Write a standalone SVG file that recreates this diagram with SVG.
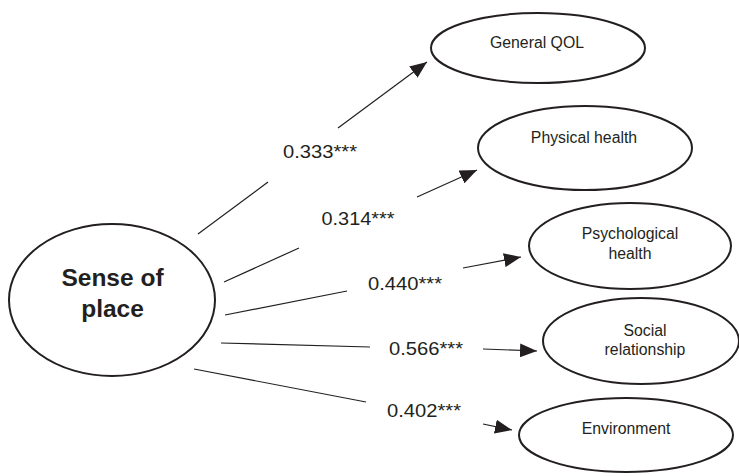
<svg xmlns="http://www.w3.org/2000/svg" width="739" height="476" viewBox="0 0 739 476">
  <defs>
    <marker id="arrow" markerUnits="userSpaceOnUse" markerWidth="18" markerHeight="14" refX="17" refY="7" orient="auto">
      <path d="M0,0 L17,7 L0,14 Z" fill="#231f20"/>
    </marker>
  </defs>
  <style>
    .node ellipse { fill: #ffffff; stroke: #231f20; stroke-width: 2; }
    .node text { font-family: "Liberation Sans", Arial, sans-serif; font-size: 15.8px; fill: #231f20; text-anchor: middle; }
    .node text.big { font-size: 24.5px; font-weight: bold; }
    .edges line { stroke: #231f20; stroke-width: 1.2; fill: none; }
    .edges line.arr { marker-end: url(#arrow); }
    .edges text { font-family: "Liberation Sans", Arial, sans-serif; font-size: 17.5px; fill: #231f20; }
  </style>
  <rect width="739" height="476" fill="#ffffff"/>

  <g id="connectors" class="edges">
    <line x1="198" y1="234" x2="268" y2="182"/>
    <line class="arr" x1="338" y1="128" x2="427" y2="62"/>
    <text x="283" y="158" textLength="74" lengthAdjust="spacingAndGlyphs">0.333***</text>

    <line x1="224" y1="282" x2="299" y2="248"/>
    <line class="arr" x1="417" y1="197" x2="477" y2="170"/>
    <text x="321.5" y="225" textLength="73" lengthAdjust="spacingAndGlyphs">0.314***</text>

    <line x1="225" y1="315" x2="347" y2="291"/>
    <line class="arr" x1="463" y1="268" x2="521" y2="257"/>
    <text x="368" y="290" textLength="74" lengthAdjust="spacingAndGlyphs">0.440***</text>

    <line x1="221" y1="343" x2="370" y2="347"/>
    <line class="arr" x1="483" y1="349" x2="537" y2="351"/>
    <text x="389" y="355" textLength="74" lengthAdjust="spacingAndGlyphs">0.566***</text>

    <line x1="194" y1="369" x2="366" y2="402"/>
    <line class="arr" x1="483" y1="424" x2="512" y2="430"/>
    <text x="387" y="417" textLength="74" lengthAdjust="spacingAndGlyphs">0.402***</text>
  </g>

  <g id="sense-of-place" class="node">
    <ellipse cx="112" cy="300" rx="103" ry="76"/>
    <text class="big" x="112.5" y="285.5">Sense of</text>
    <text class="big" x="112.5" y="317">place</text>
  </g>

  <g id="general-qol" class="node">
    <ellipse cx="538" cy="48" rx="107" ry="35"/>
    <text x="537" y="48">General QOL</text>
  </g>

  <g id="physical-health" class="node">
    <ellipse cx="585" cy="148" rx="107" ry="42"/>
    <text x="584" y="143">Physical health</text>
  </g>

  <g id="psychological-health" class="node">
    <ellipse cx="630" cy="246" rx="101" ry="43"/>
    <text x="630" y="239">Psychological</text>
    <text x="630" y="259">health</text>
  </g>

  <g id="social-relationship" class="node">
    <ellipse cx="641" cy="341" rx="98" ry="43"/>
    <text x="645" y="336">Social</text>
    <text x="645" y="355">relationship</text>
  </g>

  <g id="environment" class="node">
    <ellipse cx="626" cy="435" rx="107" ry="37"/>
    <text x="626" y="434">Environment</text>
  </g>
</svg>
